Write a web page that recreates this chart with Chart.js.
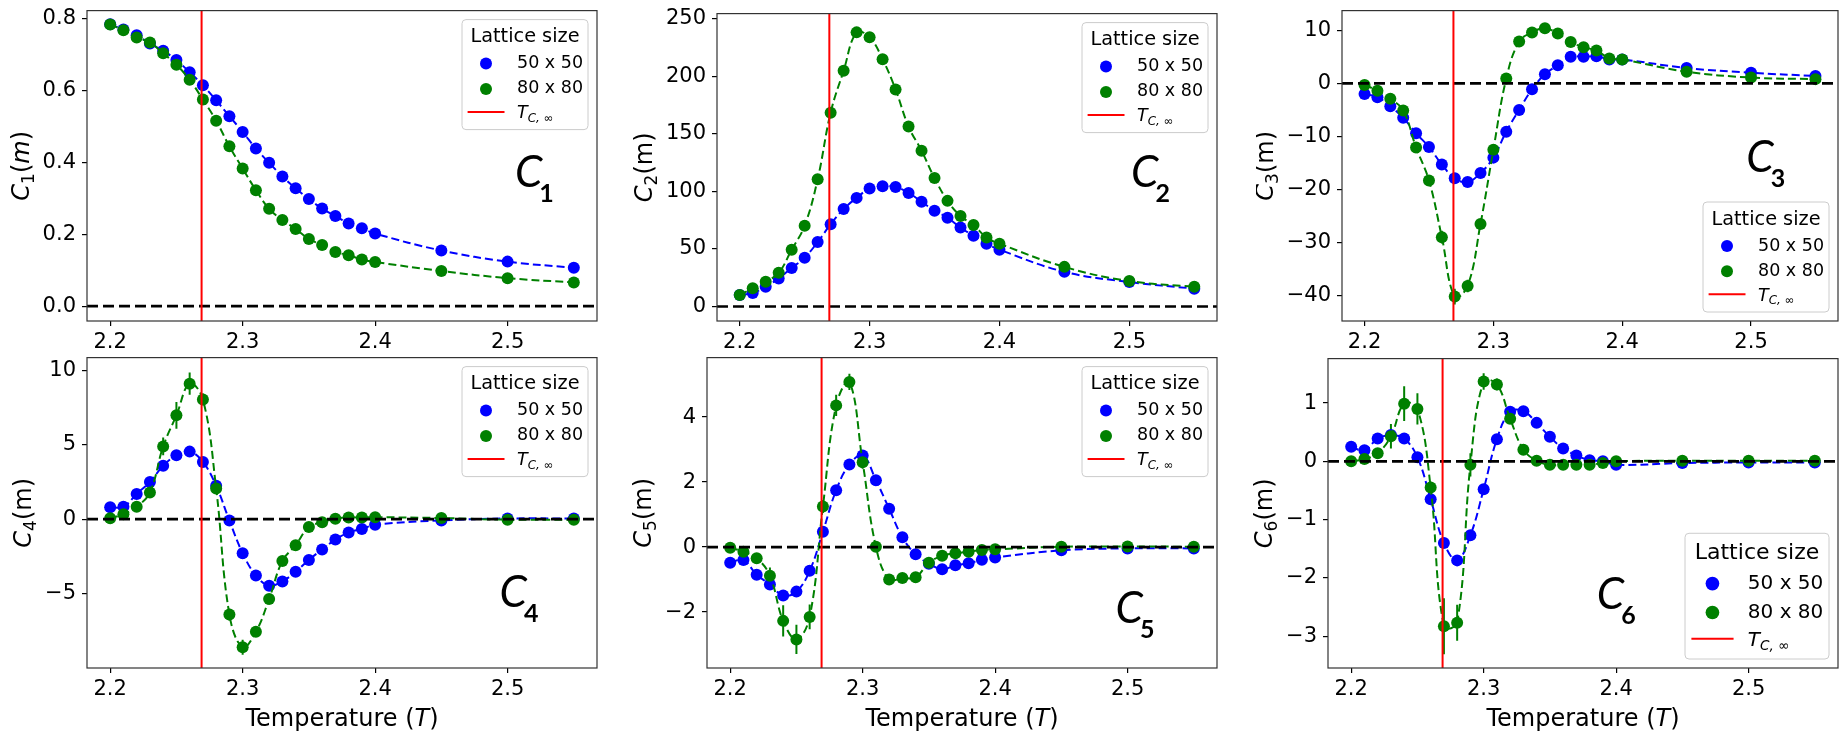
<!DOCTYPE html>
<html>
<head>
<meta charset="utf-8">
<script src="https://cdn.jsdelivr.net/npm/chart.js@4.4.0/dist/chart.umd.min.js"></script>
<style>
  html, body { margin: 0; padding: 0; background: #fff; }
  body { width: 1845px; height: 735px; position: relative; overflow: hidden; }
  .panel { position: absolute; }
</style>
</head>
<body>
<script>
// temperatures
var temps = [2.20, 2.21, 2.22, 2.23, 2.24, 2.25, 2.26, 2.27, 2.28, 2.29, 2.30, 2.31, 2.32, 2.33, 2.34, 2.35, 2.36, 2.37, 2.38, 2.39, 2.40, 2.45, 2.50, 2.55];
var seriesLabels = ["50 x 50", "80 x 80"];
var TC = 2.269;

var c1_50 = [0.785, 0.770, 0.754, 0.731, 0.711, 0.685, 0.651, 0.615, 0.573, 0.529, 0.485, 0.439, 0.399, 0.361, 0.328, 0.298, 0.272, 0.251, 0.230, 0.217, 0.202, 0.155, 0.124, 0.107];
var c1_80 = [0.784, 0.768, 0.748, 0.734, 0.704, 0.672, 0.630, 0.575, 0.516, 0.445, 0.383, 0.323, 0.271, 0.240, 0.215, 0.187, 0.170, 0.151, 0.142, 0.130, 0.123, 0.098, 0.078, 0.066];

var c2_50 = [10.0, 11.8, 17.2, 24.4, 33.5, 42.4, 55.9, 71.4, 84.6, 94.3, 102.4, 104.4, 103.8, 98.6, 90.9, 83.1, 77.1, 68.5, 61.4, 54.5, 49.3, 30.1, 21.2, 15.5];
var c2_80 = [10.0, 15.8, 21.5, 29.2, 49.3, 70.2, 110.4, 168.3, 204.7, 238.0, 233.7, 214.7, 188.4, 156.2, 135.3, 111.5, 91.7, 78.6, 70.8, 59.9, 54.5, 34.4, 22.1, 17.2];

var c3_50 = [-2.0, -2.6, -4.3, -6.5, -9.4, -12.0, -15.3, -17.9, -18.6, -16.9, -14.0, -9.1, -5.0, -1.1, 1.7, 3.4, 5.0, 5.0, 5.1, 4.5, 4.5, 2.9, 2.0, 1.4];
var c3_80 = [-0.3, -1.4, -2.9, -5.1, -12.1, -18.3, -29.0, -40.2, -38.2, -26.5, -12.5, 0.9, 7.9, 9.6, 10.4, 9.4, 7.8, 6.8, 6.2, 4.7, 4.5, 2.2, 1.1, 0.8];
var c3_80_err = [0, 0, 0, 0, 0.8, 1.0, 1.2, 1.5, 1.2, 0.8, 0.5, 0, 0, 0, 0, 0, 0, 0, 0, 0, 0, 0, 0, 0];

var c4_50 = [0.8, 0.84, 1.7, 2.5, 3.6, 4.3, 4.55, 3.85, 2.25, -0.1, -2.3, -3.8, -4.5, -4.2, -3.55, -2.75, -2.05, -1.38, -0.9, -0.67, -0.38, -0.09, 0.04, 0.04];
var c4_80 = [0.05, 0.33, 0.84, 1.8, 4.9, 7.0, 9.13, 8.07, 2.07, -6.44, -8.64, -7.6, -5.38, -2.82, -1.76, -0.53, -0.22, 0.02, 0.11, 0.11, 0.13, 0.07, -0.04, -0.04];
var c4_80_err = [0, 0, 0.2, 0.3, 0.6, 0.9, 0.75, 0.4, 0.3, 0.4, 0.5, 0.3, 0.3, 0.2, 0.1, 0.1, 0, 0, 0, 0, 0, 0, 0, 0];

var c5_50 = [-0.48, -0.40, -0.85, -1.15, -1.49, -1.37, -0.73, 0.47, 1.75, 2.54, 2.82, 2.06, 1.18, 0.30, -0.22, -0.51, -0.68, -0.56, -0.50, -0.39, -0.32, -0.10, -0.04, -0.04];
var c5_80 = [-0.02, -0.14, -0.34, -0.88, -2.27, -2.84, -2.15, 1.25, 4.36, 5.08, 2.61, 0.01, -1.0, -0.95, -0.93, -0.48, -0.27, -0.19, -0.14, -0.09, -0.07, 0.01, 0.02, 0.01];
var c5_80_err = [0, 0, 0.1, 0.25, 0.48, 0.45, 0.38, 0.2, 0.33, 0.25, 0.2, 0.1, 0.1, 0.1, 0.05, 0, 0, 0, 0, 0, 0, 0, 0, 0];

var c6_50 = [0.25, 0.19, 0.39, 0.45, 0.39, 0.07, -0.65, -1.40, -1.70, -1.27, -0.48, 0.38, 0.85, 0.86, 0.66, 0.42, 0.22, 0.10, 0.02, 0.0, -0.06, -0.03, -0.02, -0.02];
var c6_80 = [0.0, 0.04, 0.14, 0.43, 0.99, 0.90, -0.45, -2.83, -2.77, -0.06, 1.37, 1.32, 0.73, 0.20, 0.01, -0.06, -0.06, -0.06, -0.06, -0.03, 0.0, 0.01, 0.01, 0.01];
var c6_80_err = [0, 0, 0.05, 0.21, 0.3, 0.27, 0.1, 0.48, 0.31, 0.2, 0.14, 0.1, 0.05, 0, 0, 0, 0, 0, 0, 0, 0, 0, 0, 0];

// tick labels
var xTicks = [2.2, 2.3, 2.4, 2.5];
var c1Ticks = [0, 0.2, 0.4, 0.6, 0.8];
var c2Ticks = [0, 50, 100, 150, 200, 250];
var c3Ticks = [-40, -30, -20, -10, 0, 10];
var c4Ticks = [-5, 0, 5, 10];
var c5Ticks = [-2, 0, 2, 4];
var c6Ticks = [-3, -2, -1, 0, 1];

var BLUE = "#0000ff", GREEN = "#008000", RED = "#ff0000";
var FONT = '"DejaVu Sans", sans-serif';
var BIG = 'Lato, "DejaVu Sans", sans-serif';
var ML = 86, MT = 15, MR = 7, MB = 72;

var panels = [
  {s50: c1_50, s80: c1_80, e80: null, yTicks: c1Ticks, yMin: -0.0413, yMax: 0.8228, dec: 1,
   frame: [87, 7, 597, 321], legendLoc: "upper", legendSize: 17.5, sub: "1", cPos: [0.839, 0.568], italicM: true, xTitle: false},
  {s50: c2_50, s80: c2_80, e80: null, yTicks: c2Ticks, yMin: -12.6, yMax: 254.3, dec: 0,
   frame: [717, 10, 1217, 321], legendLoc: "upper", legendSize: 17.5, sub: "2", cPos: [0.828, 0.563], xTitle: false},
  {s50: c3_50, s80: c3_80, e80: c3_80_err, yTicks: c3Ticks, yMin: -44.8, yMax: 13.72, dec: 0,
   frame: [1342, 7, 1838, 321], legendLoc: "lower", legendSize: 17.5, sub: "3", cPos: [0.815, 0.52], xTitle: false},
  {s50: c4_50, s80: c4_80, e80: c4_80_err, yTicks: c4Ticks, yMin: -10.04, yMax: 10.89, dec: 0,
   frame: [87, 354, 597, 668], legendLoc: "upper", legendSize: 17.5, sub: "4", cPos: [0.809, 0.805], xTitle: true},
  {s50: c5_50, s80: c5_80, e80: c5_80_err, yTicks: c5Ticks, yMin: -3.72, yMax: 5.83, dec: 0,
   frame: [707, 354, 1217, 668], legendLoc: "upper", legendSize: 17.5, sub: "5", cPos: [0.801, 0.856], xTitle: true},
  {s50: c6_50, s80: c6_80, e80: c6_80_err, yTicks: c6Ticks, yMin: -3.547, yMax: 1.763, dec: 0,
   frame: [1328, 355, 1838, 668], legendLoc: "lower", legendSize: 20, sub: "6", cPos: [0.527, 0.808], xTitle: true}
];

function fmtTick(v, dec) {
  if (dec) return v.toFixed(dec);
  return (v < 0 ? "\u2212" : "") + Math.abs(v);
}

// draws text made of runs with different fonts
function drawRuns(ctx, runs, x, y, align) {
  var total = 0;
  runs.forEach(function (r) {
    ctx.font = r.font;
    r.w = ctx.measureText(r.t).width + (r.kern || 0);
    total += r.w;
  });
  var cx = align === "center" ? x - total / 2 : x;
  ctx.textAlign = "left";
  ctx.textBaseline = "alphabetic";
  runs.forEach(function (r) {
    ctx.font = r.font;
    ctx.fillText(r.t, cx, y + (r.dy || 0));
    cx += r.w;
  });
}

function drawLegend(ctx, area, p) {
  var f = p.legendSize, k = f / 17.5;
  var w = 126 * k, h = 110 * k;
  var bx = area.right - 9 - w;
  var by = p.legendLoc === "lower" ? area.bottom - 9 - h : area.top + 9;
  ctx.save();
  ctx.beginPath();
  ctx.roundRect(bx, by, w, h, 4);
  ctx.fillStyle = "rgba(255,255,255,0.8)";
  ctx.fill();
  ctx.strokeStyle = "#cccccc";
  ctx.lineWidth = 1;
  ctx.stroke();

  ctx.fillStyle = "#000";
  ctx.font = (19.3 * k) + "px " + FONT;
  ctx.textAlign = "center";
  ctx.textBaseline = "middle";
  ctx.fillText("Lattice size", bx + w / 2, by + 17.5 * k);

  var rows = [[BLUE, seriesLabels[0], 44], [GREEN, seriesLabels[1], 69.3]];
  rows.forEach(function (r) {
    ctx.fillStyle = r[0];
    ctx.beginPath();
    ctx.arc(bx + 24 * k, by + r[2] * k, 6 * k, 0, Math.PI * 2);
    ctx.fill();
    ctx.fillStyle = "#000";
    ctx.font = f + "px " + FONT;
    ctx.textAlign = "left";
    ctx.textBaseline = "middle";
    ctx.fillText(r[1], bx + 55 * k, by + r[2] * k);
  });

  ctx.strokeStyle = RED;
  ctx.lineWidth = 2;
  ctx.beginPath();
  ctx.moveTo(bx + 5.6 * k, by + 92.3 * k);
  ctx.lineTo(bx + 42.5 * k, by + 92.3 * k);
  ctx.stroke();
  ctx.fillStyle = "#000";
  drawRuns(ctx, [
    {t: "T", font: "italic " + f + "px " + FONT},
    {t: "C, \u221e", font: "italic " + (f * 0.68) + "px " + FONT, dy: f * 0.22}
  ], bx + 55 * k, by + 92.3 * k + f * 0.36, "left");
  ctx.restore();
}

function makePanelPlugin(p) {
  return {
    id: "panel",
    beforeDatasetsDraw: function (chart) {
      var ctx = chart.ctx, a = chart.chartArea, xs = chart.scales.x, ys = chart.scales.y;
      ctx.save();
      ctx.beginPath();
      ctx.rect(a.left, a.top, a.right - a.left, a.bottom - a.top);
      ctx.clip();
      chart.data.datasets.forEach(function (ds) {
        if (!ds.errors) return;
        ctx.strokeStyle = ds.borderColor;
        ctx.lineWidth = 2;
        ds.data.forEach(function (pt, i) {
          var e = ds.errors[i];
          if (!e) return;
          var px = xs.getPixelForValue(pt.x);
          ctx.beginPath();
          ctx.moveTo(px, ys.getPixelForValue(pt.y - e));
          ctx.lineTo(px, ys.getPixelForValue(pt.y + e));
          ctx.stroke();
        });
      });
      ctx.restore();
    },
    afterDatasetsDraw: function (chart) {
      var ctx = chart.ctx, a = chart.chartArea, xs = chart.scales.x, ys = chart.scales.y;
      ctx.save();
      // zero line
      var y0 = ys.getPixelForValue(0);
      ctx.strokeStyle = "#000";
      ctx.lineWidth = 2.6;
      ctx.setLineDash([11, 5]);
      ctx.beginPath();
      ctx.moveTo(a.left, y0);
      ctx.lineTo(a.right, y0);
      ctx.stroke();
      ctx.setLineDash([]);
      // critical temperature
      var xt = xs.getPixelForValue(TC);
      ctx.strokeStyle = RED;
      ctx.lineWidth = 2;
      ctx.beginPath();
      ctx.moveTo(xt, a.top);
      ctx.lineTo(xt, a.bottom);
      ctx.stroke();
      // frame
      ctx.strokeStyle = "#333";
      ctx.lineWidth = 1.2;
      ctx.strokeRect(a.left, a.top, a.right - a.left, a.bottom - a.top);

      // big label
      ctx.fillStyle = "#000";
      drawRuns(ctx, [
        {t: "C", font: "italic 44px " + BIG, kern: -3},
        {t: p.sub, font: "bold 25px " + BIG, dy: 15}
      ], a.left + p.cPos[0] * (a.right - a.left), a.top + p.cPos[1] * (a.bottom - a.top), "left");

      drawLegend(ctx, a, p);

      // y title
      ctx.font = "21px " + FONT;
      var maxW = 0;
      p.yTicks.forEach(function (v) {
        maxW = Math.max(maxW, ctx.measureText(fmtTick(v, p.dec)).width);
      });
      var cx = a.left - 11 - maxW - 22;
      var cy = (a.top + a.bottom) / 2;
      ctx.save();
      ctx.translate(cx, cy);
      ctx.rotate(-Math.PI / 2);
      ctx.fillStyle = "#000";
      var runs = [
        {t: "C", font: "italic 24px " + FONT},
        {t: p.sub, font: "17px " + FONT, dy: 5}
      ];
      if (p.italicM) {
        runs.push({t: "(", font: "24px " + FONT}, {t: "m", font: "italic 24px " + FONT}, {t: ")", font: "24px " + FONT});
      } else {
        runs.push({t: "(m)", font: "24px " + FONT});
      }
      drawRuns(ctx, runs, 0, 8, "center");
      ctx.restore();

      if (p.xTitle) {
        ctx.fillStyle = "#000";
        drawRuns(ctx, [
          {t: "Temperature (", font: "24px " + FONT},
          {t: "T", font: "italic 24px " + FONT},
          {t: ")", font: "24px " + FONT}
        ], (a.left + a.right) / 2, a.bottom + 58, "center");
      }
      ctx.restore();
    }
  };
}

panels.forEach(function (p) {
  var L = p.frame[0], T = p.frame[1], R = p.frame[2], B = p.frame[3];
  var div = document.createElement("div");
  div.className = "panel";
  var w = R - L + ML + MR, h = B - T + MT + MB;
  div.style.left = (L - ML) + "px";
  div.style.top = (T - MT) + "px";
  div.style.width = w + "px";
  div.style.height = h + "px";
  var cv = document.createElement("canvas");
  cv.width = w;
  cv.height = h;
  cv.style.width = w + "px";
  cv.style.height = h + "px";
  div.appendChild(cv);
  document.body.appendChild(div);

  function series(vals, color, label, errs, order) {
    return {
      label: label,
      data: temps.map(function (t, i) { return {x: t, y: vals[i]}; }),
      errors: errs,
      borderColor: color,
      backgroundColor: color,
      borderWidth: 2,
      borderDash: [8, 4],
      tension: 0.4,
      pointRadius: 6,
      pointHoverRadius: 6,
      pointBorderWidth: 0,
      order: order
    };
  }

  new Chart(cv, {
    type: "line",
    data: {
      datasets: [
        series(p.s80, GREEN, seriesLabels[1], p.e80, 0),
        series(p.s50, BLUE, seriesLabels[0], null, 1)
      ]
    },
    options: {
      responsive: false,
      animation: false,
      devicePixelRatio: 1,
      events: [],
      layout: {padding: {left: 0, top: MT, right: MR, bottom: 0}},
      plugins: {legend: {display: false}, tooltip: {enabled: false}},
      scales: {
        x: {
          type: "linear",
          min: 2.1825,
          max: 2.5675,
          afterFit: function (s) { s.height = MB; },
          afterBuildTicks: function (s) { s.ticks = xTicks.map(function (v) { return {value: v}; }); },
          grid: {drawOnChartArea: false, tickLength: 5, color: "#000", lineWidth: 1.2},
          border: {display: false},
          ticks: {
            font: {family: FONT, size: 21}, color: "#000", padding: 4,
            maxRotation: 0, autoSkip: false,
            callback: function (v) { return v.toFixed(1); }
          }
        },
        y: {
          type: "linear",
          min: p.yMin,
          max: p.yMax,
          afterFit: function (s) { s.width = ML; },
          afterBuildTicks: function (s) { s.ticks = p.yTicks.map(function (v) { return {value: v}; }); },
          grid: {drawOnChartArea: false, tickLength: 5, color: "#000", lineWidth: 1.2},
          border: {display: false},
          ticks: {
            font: {family: FONT, size: 21}, color: "#000", padding: 6, autoSkip: false,
            callback: function (v) { return fmtTick(v, p.dec); }
          }
        }
      }
    },
    plugins: [makePanelPlugin(p)]
  });
});
</script>
</body>
</html>
